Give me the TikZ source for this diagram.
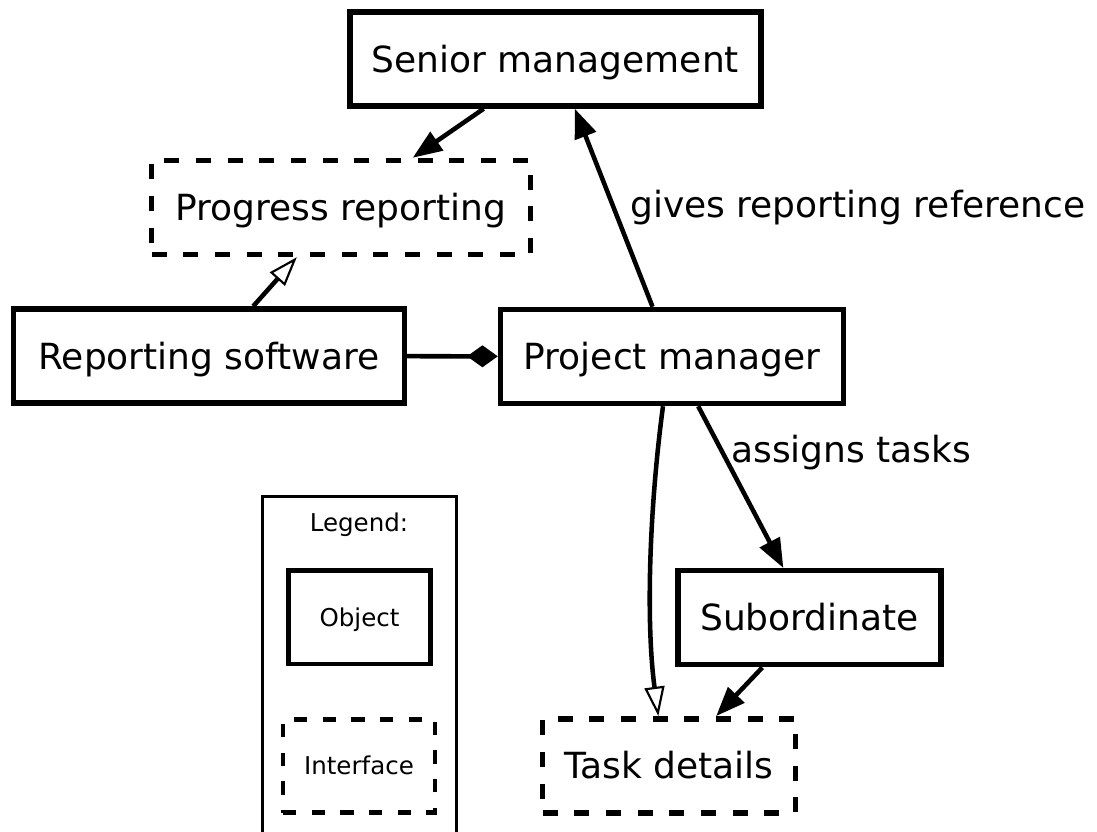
\documentclass[tikz,border=0pt]{standalone}
\usepackage{fontspec}
\setmainfont{DejaVu Sans}
\usetikzlibrary{arrows.meta}
\begin{document}
\begin{tikzpicture}[x=0.75pt,y=-0.75pt,
  big/.style={font=\fontsize{27}{32}\selectfont},
  small/.style={font=\fontsize{18.4}{22}\selectfont},
  obj/.style={draw, line width=4.1pt, inner sep=0pt, big, text height=19.7pt, text depth=0pt, minimum height=70.5pt},
  intf/.style={obj, dash pattern=on 11.25pt off 12.5pt},
  lobj/.style={draw, line width=3.5pt, inner sep=0pt, small, text height=13.4pt, text depth=0pt, minimum height=70pt},
  lintf/.style={lobj, dash pattern=on 10pt off 11.5pt},
  edge/.style={line width=3.4pt},
  solidtip/.style={-{Triangle[length=22pt,width=16.5pt]}},
  opentip/.style={-{Triangle[open,length=22pt,width=15pt,line width=1.6pt]}},
  lbl/.style={big, inner sep=0pt, anchor=base west}
]
\clip (0,0) rectangle (1097,832);

\node[obj, minimum width=308.25pt] (sm) at (555.4,59) {Senior management};
\node[intf, minimum width=283.9pt] (pr) at (341,207.5) {Progress reporting};
\node[obj, minimum width=293.25pt] (rs) at (209,356) {Reporting software};
\node[obj, minimum width=257.25pt] (pm) at (672,356.5) {Project manager};
\node[obj, minimum width=197.25pt] (sub) at (809.5,617.75) {Subordinate};
\node[intf, minimum width=189.75pt] (td) at (669,765.8) {Task details};

\node[draw, line width=1.9pt, minimum width=145.7pt, minimum height=302.6pt, inner sep=0pt] (legend) at (359.6,698.25) {};
\node[small, inner sep=0pt, text height=13.4pt, text depth=0pt] (legtitle) at (359,522.5) {Legend:};
\node[lobj, minimum width=106.9pt] (lo) at (359.5,617.4) {Object};
\node[lintf, minimum width=113.8pt] (li) at (359,766) {Interface};

\draw[edge, solidtip] (sm) -- (pr);
\draw[edge, opentip] (rs) -- (pr);
\draw[edge, -{Diamond[length=23pt,width=16.5pt]}] (rs) -- (pm);
\draw[edge, solidtip] (pm) -- (sm);
\draw[edge, solidtip] (pm) -- (sub);
\draw[edge, solidtip] (sub) -- (td);
\draw[edge, opentip] ([xshift=-6.75pt]pm.south) .. controls +(-13,97) and +(-13,-98) .. ([xshift=-8pt]td.north);

\node[lbl] (l1) at (630,217.5) {gives reporting reference};
\node[lbl] (l2) at (731,462) {assigns tasks};
\end{tikzpicture}
\end{document}
